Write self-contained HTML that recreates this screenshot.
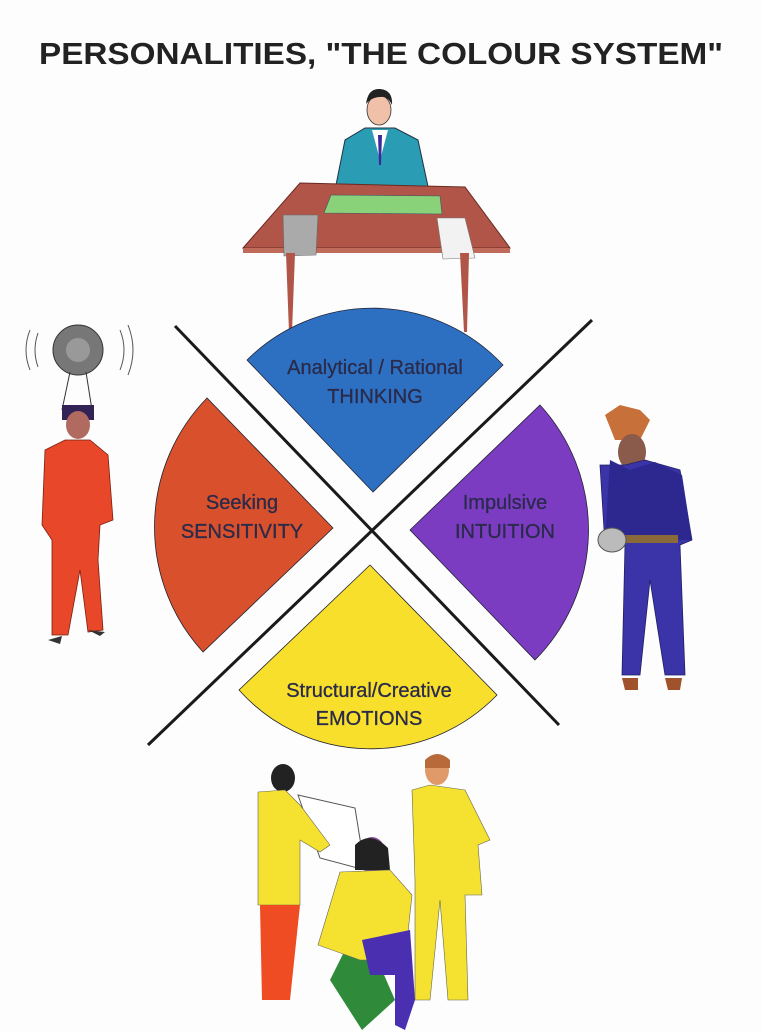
<!DOCTYPE html>
<html><head><meta charset="utf-8"><style>
body{margin:0;background:#fff;}
svg{display:block}
</style></head><body>
<svg width="762" height="1032" viewBox="0 0 762 1032" xmlns="http://www.w3.org/2000/svg" font-family="Liberation Sans, Arial, sans-serif">
<rect width="762" height="1032" fill="#fdfdfd"/>
<text x="381" y="64" text-anchor="middle" font-size="31" font-weight="bold" fill="#222" textLength="684" lengthAdjust="spacingAndGlyphs">PERSONALITIES, "THE COLOUR SYSTEM"</text>

<!-- top man + table -->
<path d="M333 200 L345 140 L365 128 L395 128 L418 140 L432 205 Z" fill="#2a9cb4" stroke="#234" stroke-width="1"/>
<path d="M372 130 L380 160 L388 130 Z" fill="#fff"/>
<path d="M378 135 L382 135 L381 165 L379 165 Z" fill="#3a2a9a"/>
<ellipse cx="379" cy="110" rx="12" ry="15" fill="#f0c0a8" stroke="#333" stroke-width="0.8"/>
<path d="M366 104 Q368 88 380 89 Q393 90 392 105 Q388 96 380 97 Q372 97 366 104 Z" fill="#222"/>
<path d="M300 183 L465 187 L510 248 L243 248 Z" fill="#b05548" stroke="#6a2a22" stroke-width="1"/>
<rect x="243" y="248" width="267" height="5" fill="#c06a5a"/>
<path d="M331 195 L440 196 L442 214 L324 213 Z" fill="#8ad27a" stroke="#456" stroke-width="0.6"/>
<path d="M283 215 L318 215 L316 255 L284 256 Z" fill="#aaa" stroke="#666" stroke-width="0.6"/>
<path d="M437 218 L465 218 L475 258 L443 259 Z" fill="#f2f2f2" stroke="#777" stroke-width="0.6"/>
<path d="M286 253 L295 253 L292 332 L289 332 Z" fill="#b05548"/>
<path d="M460 253 L469 253 L467 332 L464 332 Z" fill="#b05548"/>

<!-- wedges -->
<path d="M373 492 L247 360 A178 178 0 0 1 503 365 Z" fill="#2d70c2" stroke="#223" stroke-width="0.8"/>
<path d="M333 528 L207 398 A185 185 0 0 0 203 652 Z" fill="#d8502c" stroke="#223" stroke-width="0.8"/>
<path d="M410 530 L540 405 A185 185 0 0 1 535 660 Z" fill="#7b3cc2" stroke="#223" stroke-width="0.8"/>
<path d="M370 565 L239 690 A176 176 0 0 0 497 695 Z" fill="#f7df2c" stroke="#223" stroke-width="0.8"/>
<line x1="175" y1="326" x2="559" y2="725" stroke="#1a1a1a" stroke-width="3"/>
<line x1="592" y1="320" x2="148" y2="745" stroke="#1a1a1a" stroke-width="3"/>

<g font-size="20" fill="#2a2a4a" text-anchor="middle" stroke="#2a2a4a" stroke-width="0.3">
<text x="375" y="374">Analytical / Rational</text>
<text x="375" y="403">THINKING</text>
<text x="242" y="509">Seeking</text>
<text x="242" y="538">SENSITIVITY</text>
<text x="505" y="509">Impulsive</text>
<text x="505" y="538">INTUITION</text>
<text x="369" y="697">Structural/Creative</text>
<text x="369" y="725">EMOTIONS</text>
</g>

<!-- left red man -->
<circle cx="78" cy="350" r="25" fill="#777" stroke="#333"/>
<circle cx="78" cy="350" r="12" fill="#999"/>
<path d="M30 330 Q22 350 30 370 M38 333 Q32 350 38 367 M120 330 Q128 350 120 370 M128 325 Q138 350 128 375" stroke="#555" fill="none"/>
<path d="M70 372 L62 410 M86 372 L92 410" stroke="#333"/>
<rect x="62" y="405" width="32" height="15" fill="#332255"/>
<ellipse cx="78" cy="425" rx="12" ry="14" fill="#b06a60"/>
<path d="M45 450 L65 440 L90 440 L108 455 L113 520 L100 525 L98 560 L103 630 L88 632 L80 570 L68 635 L52 635 L52 540 L42 525 Z" fill="#e8472a" stroke="#7a2010" stroke-width="0.8"/>
<path d="M48 640 L62 636 L60 644 Z M88 630 L105 632 L100 636 Z" fill="#333"/>

<!-- right blue man -->
<path d="M605 415 L620 405 L640 410 L650 420 L640 440 L615 440 Z" fill="#c8703a"/>
<ellipse cx="632" cy="452" rx="14" ry="18" fill="#8a5a4a"/>
<path d="M600 465 L625 465 L645 460 L680 470 L692 540 L680 545 L685 675 L665 675 L650 580 L640 675 L622 675 L625 545 L605 545 Z" fill="#3a34a8" stroke="#202060" stroke-width="0.8"/>
<path d="M610 460 L630 470 L655 462 L682 475 L692 540 L605 540 Z" fill="#2c2890"/>
<rect x="610" y="535" width="68" height="8" fill="#8a6a3a"/>
<ellipse cx="612" cy="540" rx="14" ry="12" fill="#bbb" stroke="#555"/>
<path d="M622 678 L638 678 L638 690 L625 690 Z M665 678 L682 678 L680 690 L668 690 Z" fill="#a0522d"/>

<!-- bottom group -->
<path d="M298 795 L355 808 L365 870 L320 858 Z" fill="#fff" stroke="#555"/>
<ellipse cx="283" cy="778" rx="12" ry="14" fill="#222"/>
<path d="M258 792 L285 790 L300 805 L330 845 L320 852 L300 840 L300 905 L258 905 Z" fill="#f5e230" stroke="#665" stroke-width="0.6"/>
<path d="M260 905 L300 905 L290 1000 L262 1000 Z" fill="#f04c24"/>
<ellipse cx="437" cy="770" rx="12" ry="15" fill="#e09a6a"/>
<path d="M425 760 Q437 748 450 760 L450 768 L425 768 Z" fill="#b86a3a"/>
<path d="M412 790 L430 785 L465 790 L490 840 L478 845 L482 895 L465 895 L468 1000 L448 1000 L440 900 L430 1000 L415 1000 L415 880 Z" fill="#f5e230" stroke="#665" stroke-width="0.6"/>
<path d="M360 920 L395 1000 L362 1030 L330 980 Z" fill="#2f8a3a"/>
<ellipse cx="372" cy="855" rx="14" ry="18" fill="#8a4a9a"/>
<path d="M355 845 Q370 830 388 848 L390 870 L355 870 Z" fill="#222"/>
<path d="M340 872 L390 870 L412 895 L405 960 L360 960 L318 945 Z" fill="#f5e230" stroke="#665" stroke-width="0.6"/>
<path d="M362 940 L410 930 L415 1000 L405 1030 L395 1025 L395 975 L370 975 Z" fill="#4a2fb0"/>
</svg>
</body></html>
